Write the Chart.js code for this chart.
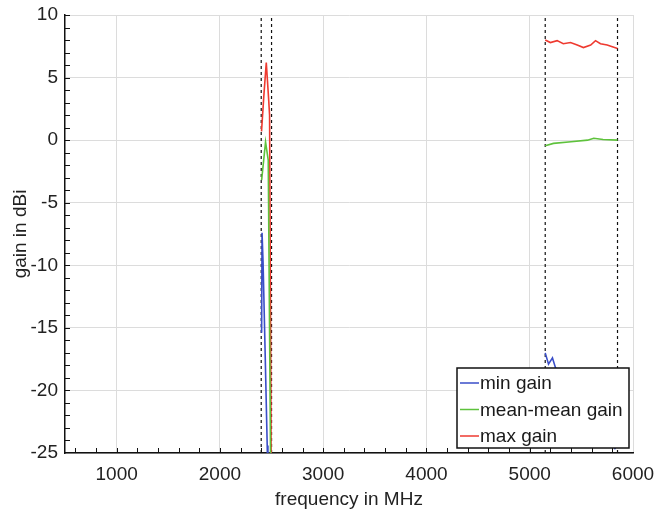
<!DOCTYPE html>
<html>
<head>
<meta charset="utf-8">
<script src="https://cdn.jsdelivr.net/npm/chart.js@4.4.1/dist/chart.umd.min.js"></script>
<style>
  html, body { margin: 0; padding: 0; background: #fff; }
</style>
</head>
<body>
<canvas id="gainChart" width="656" height="513"></canvas>
<script>
// axis ticks
const xTickValues = [1000, 2000, 3000, 4000, 5000, 6000];
const yTickValues = [-25, -20, -15, -10, -5, 0, 5, 10];

// band edges (dashed markers), MHz
const bandEdges = [2400, 2500, 5150, 5850];

// legend
const seriesNames  = ['min gain', 'mean-mean gain', 'max gain'];
const seriesColors = ['#3a4ec8', '#5ec23c', '#ee3a30'];

// 2.4 GHz band
const minLowFreq  = [2404, 2408, 2418, 2438, 2458, 2465];
const minLowGain  = [-15.4, -7.4, -9.8, -17, -24.4, -27];
const meanLowFreq = [2404, 2442, 2468, 2492];
const meanLowGain = [-3.2, -0.15, -1.6, -27];
const maxLowFreq  = [2403, 2425, 2449, 2471, 2481, 2497];
const maxLowGain  = [0.7, 3.5, 6.2, 3.4, 2.0, -27];

// 5 GHz band
const minHighFreq  = [5150, 5182, 5220, 5250, 5300, 5450, 5650, 5830];
const minHighGain  = [-17.0, -17.9, -17.4, -18.2, -18.6, -20.5, -22.5, -24.7];
const meanHighFreq = [5150, 5230, 5400, 5560, 5620, 5710, 5850];
const meanHighGain = [-0.45, -0.26, -0.13, 0.0, 0.15, 0.05, 0.0];
const maxHighFreq  = [5150, 5200, 5265, 5325, 5395, 5460, 5520, 5590, 5637, 5685, 5750, 5850];
const maxHighGain  = [8.0, 7.8, 7.95, 7.7, 7.8, 7.6, 7.4, 7.6, 7.95, 7.7, 7.6, 7.33];

const FONT = '"Liberation Sans", Arial, sans-serif';
const pts = (xs, ys) => xs.map((x, i) => ({ x, y: ys[i] }));

function series(xs, ys, idx) {
  return {
    data: pts(xs, ys),
    borderColor: seriesColors[idx],
    borderWidth: 1.6,
    pointRadius: 0,
    tension: 0,
    fill: false
  };
}

// dashed vertical band markers
const edgeSets = bandEdges.map(f => ({
  data: [{ x: f, y: yTickValues[0] }, { x: f, y: yTickValues[yTickValues.length - 1] }],
  borderColor: '#111',
  borderWidth: 1.2,
  borderDash: [3, 3],
  pointRadius: 0
}));

// MATLAB-like inward minor ticks
const innerTicks = {
  id: 'innerTicks',
  afterDraw(chart) {
    const { ctx, chartArea, scales: { x, y } } = chart;
    ctx.save();
    ctx.strokeStyle = '#111';
    ctx.lineWidth = 1;
    ctx.beginPath();
    for (let v = 600; v < 6000; v += 200) {
      const px = Math.round(x.getPixelForValue(v)) + 0.5;
      ctx.moveTo(px, chartArea.bottom);
      ctx.lineTo(px, chartArea.bottom - 5);
    }
    for (let v = -24; v <= 10; v += 1) {
      const py = Math.round(y.getPixelForValue(v)) + 0.5;
      ctx.moveTo(chartArea.left, py);
      ctx.lineTo(chartArea.left + 5, py);
    }
    ctx.stroke();
    ctx.restore();
  }
};

// boxed legend inside the plot, lower right
const boxLegend = {
  id: 'boxLegend',
  afterDatasetsDraw(chart) {
    const { ctx, chartArea } = chart;
    const w = 172, h = 80;
    const x0 = chartArea.right - 4 - w, y0 = chartArea.bottom - 5 - h;
    ctx.save();
    ctx.fillStyle = '#fff';
    ctx.fillRect(x0, y0, w, h);
    ctx.strokeStyle = '#111';
    ctx.lineWidth = 1.5;
    ctx.strokeRect(x0, y0, w, h);
    ctx.font = '19px ' + FONT;
    ctx.textBaseline = 'middle';
    seriesNames.forEach((name, i) => {
      const ly = y0 + 15 + i * 26.5;
      ctx.strokeStyle = seriesColors[i];
      ctx.lineWidth = 1.5;
      ctx.beginPath();
      ctx.moveTo(x0 + 3, ly);
      ctx.lineTo(x0 + 22, ly);
      ctx.stroke();
      ctx.fillStyle = '#1a1a1a';
      ctx.fillText(name, x0 + 23, ly + 1);
    });
    ctx.restore();
  }
};

const ctx = document.getElementById('gainChart').getContext('2d');
new Chart(ctx, {
  type: 'line',
  data: {
    datasets: [
      series(minLowFreq, minLowGain, 0),
      series(minHighFreq, minHighGain, 0),
      series(meanLowFreq, meanLowGain, 1),
      series(meanHighFreq, meanHighGain, 1),
      series(maxLowFreq, maxLowGain, 2),
      series(maxHighFreq, maxHighGain, 2),
      ...edgeSets
    ]
  },
  options: {
    responsive: false,
    animation: false,
    devicePixelRatio: 1,
    layout: { padding: { top: 15, right: 23, left: 0, bottom: 0 } },
    plugins: {
      legend: { display: false },
      tooltip: { enabled: false }
    },
    scales: {
      x: {
        type: 'linear',
        min: 500,
        max: 6000,
        afterBuildTicks: s => { s.ticks = xTickValues.map(v => ({ value: v })); },
        afterFit: s => { s.height = 60; s.paddingLeft = 0; s.paddingRight = 0; },
        grid: { color: '#dcdcdc', drawTicks: false },
        border: { color: '#111', width: 1.5 },
        ticks: {
          padding: 10, color: '#222', autoSkip: false, maxRotation: 0,
          font: { family: FONT, size: 19 },
          callback: v => String(v)
        },
        title: { display: true, text: 'frequency in MHz', color: '#222', font: { family: FONT, size: 19 }, padding: { top: 0, bottom: 2 } }
      },
      y: {
        type: 'linear',
        min: -25,
        max: 10,
        afterBuildTicks: s => { s.ticks = yTickValues.map(v => ({ value: v })); },
        afterFit: s => { s.width = 65; s.paddingTop = 0; s.paddingBottom = 0; },
        grid: { color: '#dcdcdc', drawTicks: false },
        border: { color: '#111', width: 1.5 },
        ticks: { padding: 7, color: '#222', font: { family: FONT, size: 19 }, callback: v => String(v) },
        title: { display: true, text: 'gain in dBi', color: '#222', font: { family: FONT, size: 19 }, padding: { top: 9, bottom: 0 } }
      }
    }
  },
  plugins: [innerTicks, boxLegend]
});
</script>
</body>
</html>
